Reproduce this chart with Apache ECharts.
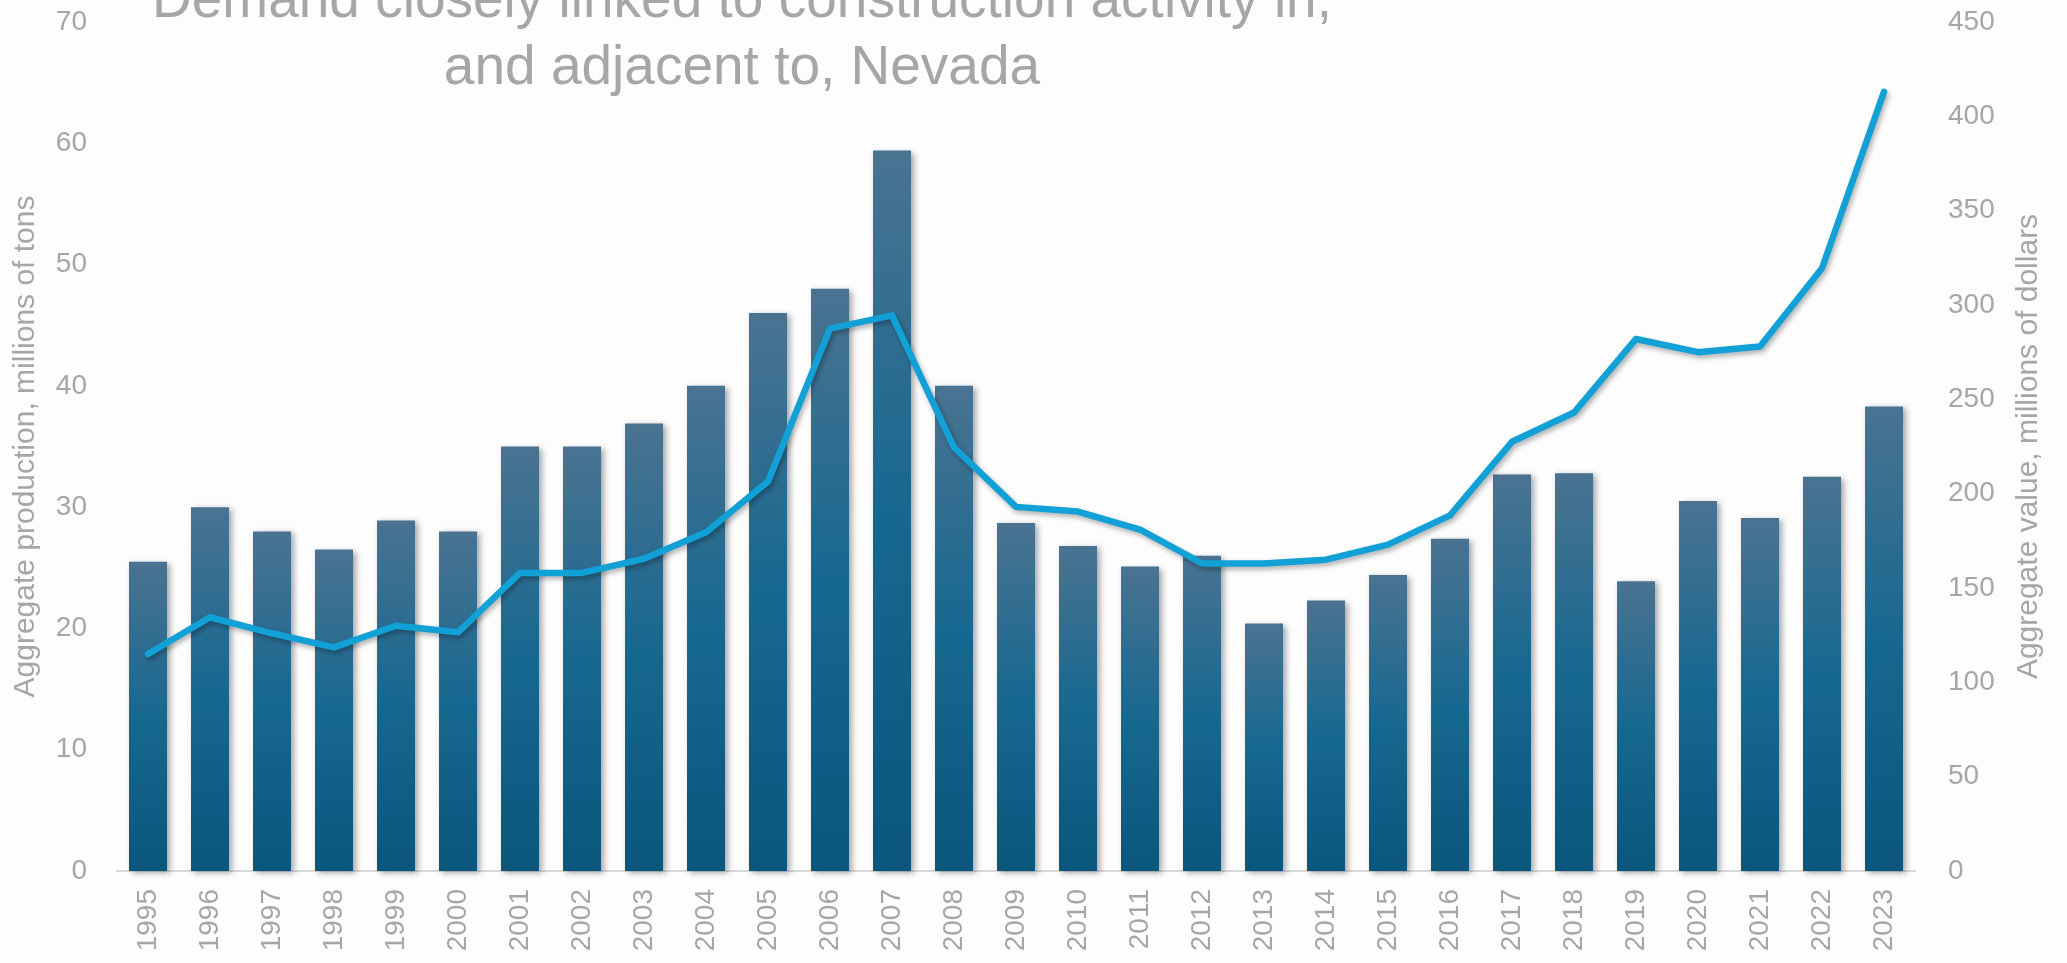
<!DOCTYPE html>
<html>
<head>
<meta charset="utf-8">
<title>Nevada aggregate production and value</title>
<script src="https://cdn.jsdelivr.net/npm/echarts@6/dist/echarts.min.js"></script>
<style>
  html, body { margin: 0; padding: 0; background: #fdfdfd; }
  #chart { width: 2067px; height: 963px; }
</style>
</head>
<body>
<div id="chart"></div>
<script>
// Years on the category axis
const years = ['1995', '1996', '1997', '1998', '1999', '2000', '2001', '2002', '2003', '2004',
  '2005', '2006', '2007', '2008', '2009', '2010', '2011', '2012', '2013', '2014',
  '2015', '2016', '2017', '2018', '2019', '2020', '2021', '2022', '2023'];

// Aggregate production, millions of tons (bars, left axis)
const production = [25.5, 30.0, 28.0, 26.5, 28.9, 28.0, 35.0, 35.0, 36.9, 40.0,
  46.0, 48.0, 59.4, 40.0, 28.7, 26.8, 25.1, 26.0, 20.4, 22.3,
  24.4, 27.4, 32.7, 32.8, 23.9, 30.5, 29.1, 32.5, 38.3];

// Aggregate value, millions of dollars (line, right axis)
const value = [115, 134.5, 126, 118.5, 130, 126.5, 158, 158, 165.5, 179.5,
  206.5, 287.5, 294.5, 224.5, 193, 190.5, 181, 163, 163, 165,
  173, 188.5, 227.5, 243, 282, 275, 278, 319.5, 413];

// Axis ranges and steps
const leftAxis = { min: 0, max: 70, step: 10 };
const rightAxis = { min: 0, max: 450, step: 50 };

const titleText = 'Demand closely linked to construction activity in,\nand adjacent to, Nevada';
const leftName = 'Aggregate production, millions of tons';
const rightName = 'Aggregate value, millions of dollars';

const FONT = 'Liberation Sans';
const GREY = '#a6a6a6';

const chart = echarts.init(document.getElementById('chart'), null, { renderer: 'canvas' });

chart.setOption({
  backgroundColor: '#fdfdfd',
  animation: false,
  title: {
    text: titleText,
    left: 737,
    top: -37,
    textAlign: 'center',
    textStyle: {
      fontFamily: FONT,
      fontSize: 55,
      fontWeight: 'normal',
      color: GREY,
      lineHeight: 67
    }
  },
  grid: {
    left: 117,
    right: 152,
    top: 22,
    bottom: 92,
    containLabel: false,
    outerBoundsMode: 'none'
  },
  xAxis: {
    type: 'category',
    data: years,
    axisLine: { show: true, lineStyle: { color: '#d9d9d9', width: 2 } },
    axisTick: { show: false },
    axisLabel: {
      rotate: 90,
      margin: 18,
      fontFamily: FONT,
      fontSize: 28,
      color: GREY
    }
  },
  yAxis: [
    {
      type: 'value',
      min: leftAxis.min,
      max: leftAxis.max,
      interval: leftAxis.step,
      name: leftName,
      nameLocation: 'middle',
      nameGap: 76,
      nameTextStyle: { fontFamily: FONT, fontSize: 30, color: GREY },
      axisLine: { show: false },
      axisTick: { show: false },
      splitLine: { show: false },
      axisLabel: { margin: 30, fontFamily: FONT, fontSize: 28, color: GREY }
    },
    {
      type: 'value',
      min: rightAxis.min,
      max: rightAxis.max,
      interval: rightAxis.step,
      name: rightName,
      nameLocation: 'middle',
      nameGap: 99,
      nameTextStyle: { fontFamily: FONT, fontSize: 30, color: GREY },
      axisLine: { show: false },
      axisTick: { show: false },
      splitLine: { show: false },
      axisLabel: { margin: 33, fontFamily: FONT, fontSize: 28, color: GREY }
    }
  ],
  series: [
    {
      name: 'Production',
      type: 'bar',
      yAxisIndex: 0,
      data: production,
      barWidth: 38,
      itemStyle: {
        color: new echarts.graphic.LinearGradient(0, 0, 0, 1, [
          { offset: 0, color: '#4a7391' },
          { offset: 0.5, color: '#176890' },
          { offset: 1, color: '#0a567c' }
        ]),
        shadowColor: 'rgba(0,0,0,0.35)',
        shadowBlur: 6,
        shadowOffsetX: 3,
        shadowOffsetY: 2
      }
    },
    {
      name: 'Value',
      type: 'line',
      yAxisIndex: 1,
      data: value,
      symbol: 'none',
      z: 3,
      lineStyle: {
        color: '#12a1d7',
        width: 6.5,
        cap: 'round',
        join: 'round',
        shadowColor: 'rgba(0,0,0,0.3)',
        shadowBlur: 5,
        shadowOffsetX: 2,
        shadowOffsetY: 3
      }
    }
  ]
});
</script>
</body>
</html>
